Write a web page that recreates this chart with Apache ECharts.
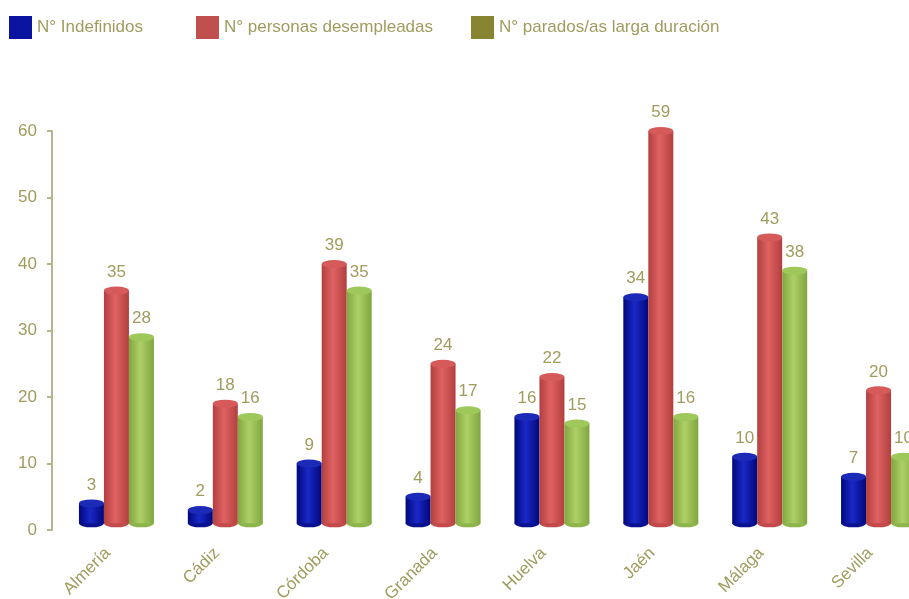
<!DOCTYPE html>
<html>
<head>
<meta charset="utf-8">
<script src="https://cdn.jsdelivr.net/npm/echarts@6/dist/echarts.min.js"></script>
<style>
html,body{margin:0;padding:0;background:#fff;overflow:hidden;width:909px;height:599px;}
#c{width:960px;height:599px;}
</style>
</head>
<body>
<div id="c"></div>
<script>
const categories = ['Almería','Cádiz','Córdoba','Granada','Huelva','Jaén','Málaga','Sevilla'];
const indefinidos = [3,2,9,4,16,34,10,7];
const desempleadas = [35,18,39,24,22,59,43,20];
const largaDuracion = [28,16,35,17,15,16,38,10];
const seriesNames = ['N° Indefinidos','N° personas desempleadas','N° parados/as larga duración'];
const yTicks = [0,10,20,30,40,50,60];

const olive = '#a09c5e';
const axisCol = '#b8b48e';
const legendColors = ['#0a14a0','#c0504d','#878432'];
const legendLefts = [4, 191, 466];
function grad(edge, mid){
  return new echarts.graphic.LinearGradient(0,0,1,0,[
    {offset:0,color:edge},{offset:0.45,color:mid},{offset:1,color:edge}
  ]);
}
const fills = [grad('#00087a','#1a28c8'), grad('#b23f3f','#e06262'), grad('#80a640','#aed066')];
const tops = ['#1c2ab8','#d65a5a','#9ec85a'];
const bottoms = ['#0a1290','#c24a4a','#8eb44c'];
const datas = [indefinidos, desempleadas, largaDuracion];

const chart = echarts.init(document.getElementById('c'));
const series = [];
datas.forEach((d,i)=>{
  series.push({
    name: seriesNames[i], type:'bar', data:d, yAxisIndex:1, xAxisIndex:0,
    barWidth: 25, barGap: '0%',
    itemStyle:{color:fills[i]},
    label:{show:true, position:'top', distance:10, color:olive, fontSize:17, fontFamily:'Liberation Sans'}
  });
});
datas.forEach((d,i)=>{
  series.push({
    name: seriesNames[i], type:'pictorialBar', data:d, yAxisIndex:1, xAxisIndex:0,
    barWidth: 25, barGap: '0%',
    symbol:'circle', symbolSize:[25,8], symbolPosition:'end', symbolOffset:[0,'-50%'],
    itemStyle:{color:tops[i]}, z:3, silent:true
  });
});
datas.forEach((d,i)=>{
  series.push({
    name: seriesNames[i], type:'pictorialBar', data:d, yAxisIndex:1, xAxisIndex:1,
    barWidth: 25, barGap: '0%',
    symbol:'circle', symbolSize:[25,8], symbolPosition:'start', symbolOffset:[0,'50%'],
    itemStyle:{color:bottoms[i]}, z:1, silent:true
  });
});

const legends = seriesNames.map((n,i)=>({
  left:legendLefts[i], top:11, itemWidth:23, itemHeight:23,
  textStyle:{color:olive, fontSize:17, fontFamily:'Liberation Sans'},
  data:[{name:n, icon:'rect', itemStyle:{color:legendColors[i]}}]
}));

chart.setOption({
  animation:false,
  legend: legends,
  grid:{left:62, top:131, bottom:69, width:871, containLabel:false, outerBoundsMode:'none'},
  xAxis:[{
    type:'category', data:categories,
    axisLine:{show:false}, axisTick:{show:false},
    axisLabel:{rotate:45, margin:12, padding:[0,12,0,0], color:olive, fontSize:17, fontFamily:'Liberation Sans'}
  },{
    type:'category', data:categories, show:false
  }],
  yAxis:[{
    type:'value', min:yTicks[0], max:yTicks[yTicks.length-1], interval:10, offset:10,
    axisLine:{show:true, lineStyle:{color:axisCol, width:2}},
    axisTick:{show:true, length:5, lineStyle:{color:axisCol, width:2}},
    splitLine:{show:false},
    axisLabel:{color:olive, fontSize:17, margin:15, fontFamily:'Liberation Sans'}
  },{
    type:'value', min:-1, max:59, show:false, splitLine:{show:false}
  },{
    type:'value', min:yTicks[0], max:yTicks[yTicks.length-1], interval:10, offset:10,
    axisLine:{show:false}, axisLabel:{show:false}, splitLine:{show:false},
    axisTick:{show:true, inside:true, length:6, lineStyle:{color:axisCol, width:2}}
  }],
  series: series
});
</script>
</body>
</html>
